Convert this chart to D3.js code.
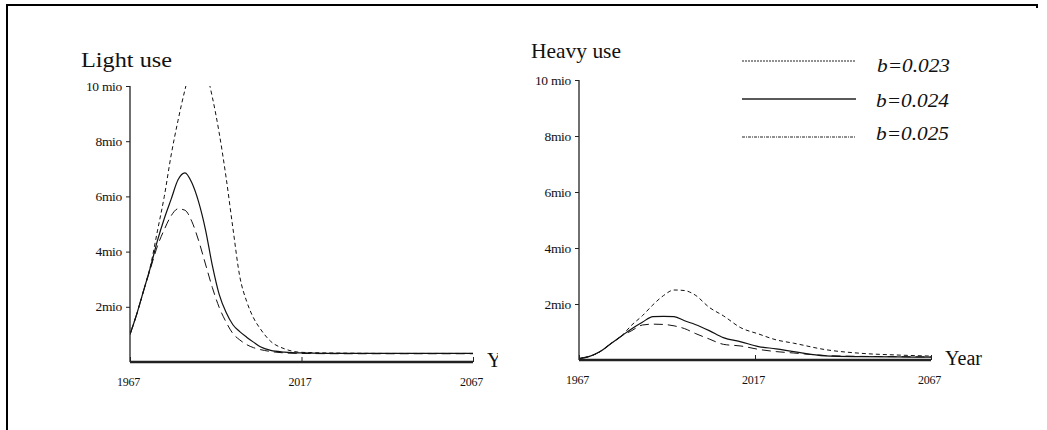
<!DOCTYPE html>
<html>
<head>
<meta charset="utf-8">
<script src="https://cdn.jsdelivr.net/npm/d3@7"></script>
<style>
  html, body { margin: 0; padding: 0; background: #fff; }
  svg { display: block; }
  text { font-family: "Liberation Serif", "Times New Roman", serif; fill: #111; }
</style>
</head>
<body>
<svg id="chart" width="1047" height="430"></svg>
<script>
// ---- data (million persons) ----
const seriesNames = ["b=0.023", "b=0.024", "b=0.025"];
const yTickValues = [2, 4, 6, 8, 10];
const yTickLabels = ["2mio", "4mio", "6mio", "8mio", "10 mio"];
const xTickValues = [1967, 2017, 2067];

// Light use panel
const lightYears = [1967, 1969, 1971, 1973, 1975, 1977, 1979, 1981, 1983, 1985, 1987, 1989,
                    1991, 1993, 1995, 1997, 1999, 2001, 2003, 2005, 2008, 2012, 2017, 2030, 2045, 2067];
const lightB023 = [1.0, 1.75, 2.6, 3.5, 4.75, 6.0, 7.5, 8.75, 9.85, 10.75, 11.0, 10.6,
                   9.6, 8.3, 6.7, 4.85, 3.1, 2.2, 1.6, 1.2, 0.75, 0.48, 0.35, 0.32, 0.31, 0.31];
const lightB024 = [1.0, 1.75, 2.6, 3.45, 4.4, 5.2, 5.9, 6.6, 6.85, 6.5, 5.8, 4.8,
                   3.5, 2.45, 1.8, 1.35, 1.1, 0.9, 0.72, 0.55, 0.42, 0.36, 0.33, 0.31, 0.31, 0.31];
const lightB025 = [1.0, 1.75, 2.6, 3.4, 4.2, 4.8, 5.3, 5.55, 5.5, 5.1, 4.4, 3.55,
                   2.7, 1.98, 1.45, 1.03, 0.8, 0.63, 0.52, 0.45, 0.38, 0.33, 0.31, 0.3, 0.3, 0.3];

// Heavy use panel
const heavyYears = [1967, 1970, 1973, 1976, 1979, 1982, 1985, 1988, 1991, 1994, 1997, 2000,
                    2004, 2008, 2013, 2018, 2023, 2028, 2037, 2047, 2057, 2067];
const heavyB023 = [0.05, 0.13, 0.3, 0.58, 0.85, 1.25, 1.58, 1.97, 2.3, 2.5, 2.48, 2.32,
                   1.88, 1.58, 1.15, 0.93, 0.72, 0.6, 0.37, 0.24, 0.18, 0.14];
const heavyB024 = [0.05, 0.13, 0.3, 0.58, 0.85, 1.12, 1.35, 1.55, 1.56, 1.55, 1.4, 1.27,
                   1.05, 0.8, 0.65, 0.48, 0.4, 0.3, 0.15, 0.12, 0.11, 0.1];
const heavyB025 = [0.05, 0.13, 0.3, 0.58, 0.85, 1.05, 1.25, 1.28, 1.27, 1.22, 1.12, 0.95,
                   0.75, 0.56, 0.5, 0.38, 0.3, 0.25, 0.16, 0.13, 0.12, 0.11];

// ---- drawing ----
const svg = d3.select("#chart");

// line styles for the three parameter values
const plotDash = ["4,3", null, "9,5"];
const legendDash = ["2,1", null, "3,1,1,1"];

// outer frame
svg.append("path")
  .attr("d", "M7,430 V5 H1037 V388")
  .attr("fill", "none").attr("stroke", "#000").attr("stroke-width", 2);

function panel(opts) {
  const g = svg.append("g");
  if (opts.background) {
    g.append("rect").attr("x", opts.background[0]).attr("y", 8)
      .attr("width", opts.background[1]).attr("height", 416).attr("fill", "#fff");
  }
  const x = d3.scaleLinear().domain([1967, 2067]).range(opts.xRange);
  const y = d3.scaleLinear().domain([0, 10]).range(opts.yRange);

  const clipId = "clip-" + opts.id;
  g.append("clipPath").attr("id", clipId).append("rect")
    .attr("x", opts.xRange[0]).attr("y", opts.yRange[1])
    .attr("width", opts.xRange[1] - opts.xRange[0] + 2)
    .attr("height", opts.yRange[0] - opts.yRange[1]);

  const line = d3.line()
    .x((d, i) => x(opts.years[i]))
    .y(d => y(d))
    .curve(d3.curveMonotoneX);

  const lines = g.append("g").attr("clip-path", `url(#${clipId})`);
  opts.series.forEach((vals, k) => {
    lines.append("path")
      .datum(vals)
      .attr("d", line)
      .attr("fill", "none")
      .attr("stroke", "#111")
      .attr("stroke-width", k === 1 ? 1.2 : 1)
      .attr("stroke-dasharray", plotDash[k]);
  });

  // y axis
  const yAxis = d3.axisLeft(y).tickValues(yTickValues)
    .tickFormat((d, i) => yTickLabels[i]).tickSize(4).tickPadding(4);
  const ya = g.append("g").attr("transform", `translate(${opts.xRange[0]},0)`).call(yAxis);
  ya.select(".domain").attr("d", `M0,${opts.yRange[1]}V${opts.yRange[0]}`).attr("stroke", "#222").attr("stroke-width", 1.3);
  ya.selectAll(".tick line").attr("stroke", "#222");
  ya.selectAll(".tick text")
    .attr("font-family", "Liberation Serif").attr("font-size", 13.5)
    .attr("letter-spacing", -0.3).attr("fill", "#222").attr("dy", "0.3em");

  // x axis (ticks pointing inward)
  const xAxis = d3.axisBottom(x).tickValues(xTickValues)
    .tickFormat(d3.format("d")).tickSize(-5).tickPadding(15);
  const xa = g.append("g").attr("transform", `translate(0,${opts.yRange[0]})`).call(xAxis);
  xa.select(".domain").attr("d", `M${opts.xRange[0]},0H${opts.xRange[1]}`)
    .attr("stroke", "#222").attr("stroke-width", 2.6);
  xa.selectAll(".tick line").attr("stroke", "#222");
  xa.selectAll(".tick text")
    .attr("font-family", "Liberation Serif").attr("font-size", 12)
    .attr("letter-spacing", -0.3).attr("fill", "#222")
    .attr("dx", -2);

  // panel title
  g.append("text").attr("x", opts.title[1]).attr("y", opts.title[2])
    .attr("font-size", 21).attr("textLength", opts.title[3]).attr("lengthAdjust", "spacingAndGlyphs")
    .text(opts.title[0]);

  // axis name
  g.append("text").attr("x", opts.xRange[1] + 14).attr("y", opts.yRange[0] + 5)
    .attr("font-size", 20).attr("textLength", 37).attr("lengthAdjust", "spacingAndGlyphs")
    .text("Year");
  return g;
}

panel({
  id: "light", xRange: [130, 473], yRange: [362, 86],
  years: lightYears, series: [lightB023, lightB024, lightB025],
  title: ["Light use", 81, 67, 91]
});

panel({
  id: "heavy", background: [498, 540], xRange: [579, 931], yRange: [360, 80],
  years: heavyYears, series: [heavyB023, heavyB024, heavyB025],
  title: ["Heavy use", 531, 58, 90]
});

// legend
const legend = svg.append("g");
const legendY = [61, 99, 137];
const legendTextY = [72, 107, 140];
seriesNames.forEach((name, k) => {
  legend.append("line")
    .attr("x1", 742).attr("x2", 856)
    .attr("y1", legendY[k]).attr("y2", legendY[k])
    .attr("stroke", "#222").attr("stroke-width", k === 1 ? 1.3 : 1)
    .attr("stroke-dasharray", legendDash[k]);
  legend.append("text")
    .attr("x", k === 0 ? 877 : 876).attr("y", legendTextY[k])
    .attr("font-size", 18).attr("font-style", "italic")
    .attr("textLength", 73).attr("lengthAdjust", "spacingAndGlyphs")
    .text(name);
});
</script>
</body>
</html>
